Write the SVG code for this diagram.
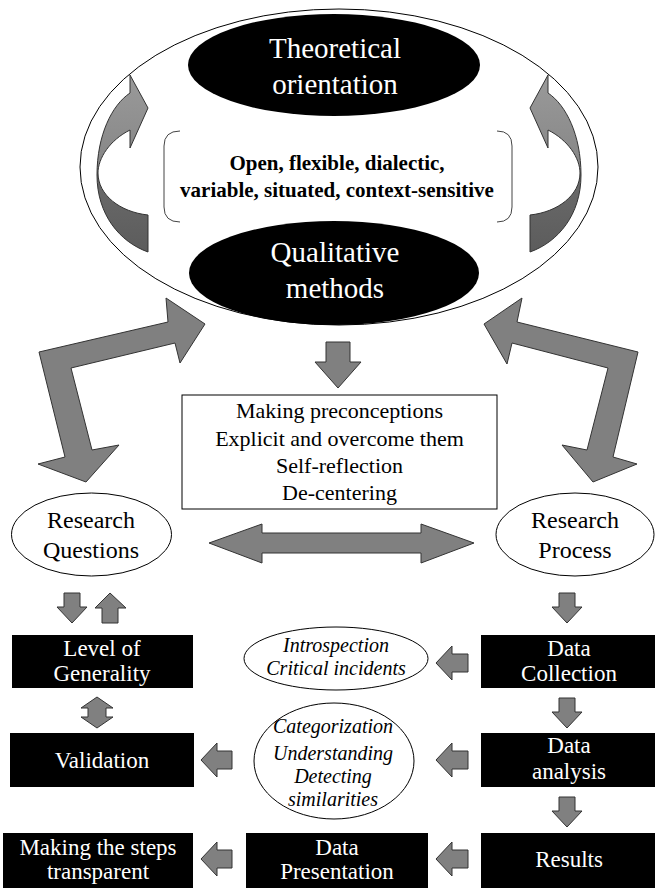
<svg xmlns="http://www.w3.org/2000/svg" width="655" height="888" viewBox="0 0 655 888">
<defs>
<linearGradient id="cg" gradientUnits="userSpaceOnUse" x1="0" y1="75" x2="0" y2="252">
<stop offset="0" stop-color="#9a9a9a"/><stop offset="0.55" stop-color="#858585"/><stop offset="0.55" stop-color="#6b6b6b"/><stop offset="1" stop-color="#5c5c5c"/>
</linearGradient>
<style>
.t{font-family:"Liberation Serif","Times New Roman",serif;text-anchor:middle}
.w{fill:#fff}
.big{font-size:29px}
.mid{font-size:24px}
.bx{font-size:23px}
.box{font-size:22px}
.it{font-size:20px;font-style:italic}
.bd{font-size:21px;font-weight:bold}
.ar{fill:#808080;stroke:#333;stroke-width:1;stroke-linejoin:miter}
.blk{fill:#000}
.ol{fill:#fff;stroke:#000;stroke-width:1}
</style>
</defs>
<rect width="655" height="888" fill="#fff"/>
<g id="outer-ellipse"><ellipse cx="339" cy="167" rx="259" ry="158" class="ol"/></g>
<g id="theoretical"><ellipse cx="334" cy="65" rx="146" ry="51" class="blk"/>
<text class="t w big" x="335" y="58">Theoretical</text><text class="t w big" x="335" y="94">orientation</text></g>
<g id="bracket"><path d="M180,131 Q164,131 164,146 L164,207 Q164,222 180,222 M497,131 Q512,131 512,146 L512,207 Q512,222 497,222" fill="none" stroke="#444" stroke-width="1"/>
<text class="t bd" x="337" y="170">Open, flexible, dialectic,</text><text class="t bd" x="337" y="197">variable, situated, context-sensitive</text></g>
<g id="qualitative"><ellipse cx="334" cy="273" rx="145" ry="52" class="blk"/>
<text class="t w big" x="335" y="262">Qualitative</text><text class="t w big" x="335" y="298">methods</text></g>
<g id="preconceptions"><rect x="182" y="395" width="315" height="114" class="ol"/>
<text class="t box" x="339.5" y="418">Making preconceptions</text><text class="t box" x="339.5" y="446">Explicit and overcome them</text><text class="t box" x="339.5" y="473">Self-reflection</text><text class="t box" x="339.5" y="500">De-centering</text></g>
<g id="research-questions"><ellipse cx="91.5" cy="534.5" rx="80" ry="41.5" class="ol"/>
<text class="t mid" x="91" y="528">Research</text><text class="t mid" x="91" y="558">Questions</text></g>
<g id="research-process"><ellipse cx="575" cy="534.5" rx="79" ry="41.5" class="ol"/>
<text class="t mid" x="575" y="528">Research</text><text class="t mid" x="575" y="558">Process</text></g>
<g id="level"><rect x="12" y="635" width="181" height="53" class="blk"/>
<text class="t w bx" x="102" y="656">Level of</text><text class="t w bx" x="102" y="681">Generality</text></g>
<g id="validation"><rect x="10" y="733" width="184" height="54" class="blk"/>
<text class="t w bx" x="102" y="768">Validation</text></g>
<g id="transparent"><rect x="3" y="833" width="190" height="55" class="blk"/>
<text class="t w bx" x="98" y="855">Making the steps</text><text class="t w bx" x="98" y="879">transparent</text></g>
<g id="introspection"><ellipse cx="336" cy="658.5" rx="92" ry="31.5" class="ol"/>
<text class="t it" x="336" y="652">Introspection</text><text class="t it" x="336" y="675">Critical incidents</text></g>
<g id="categorization"><ellipse cx="334" cy="761" rx="80" ry="58" class="ol"/>
<text class="t it" x="333" y="733">Categorization</text><text class="t it" x="333" y="760">Understanding</text><text class="t it" x="333" y="783">Detecting</text><text class="t it" x="333" y="806">similarities</text></g>
<g id="data-collection"><rect x="481" y="635" width="174" height="53" class="blk"/>
<text class="t w bx" x="569" y="656">Data</text><text class="t w bx" x="569" y="681">Collection</text></g>
<g id="data-analysis"><rect x="481" y="733" width="174" height="54" class="blk"/>
<text class="t w bx" x="569" y="753">Data</text><text class="t w bx" x="569" y="779">analysis</text></g>
<g id="results"><rect x="481" y="833" width="174" height="55" class="blk"/>
<text class="t w bx" x="569" y="867">Results</text></g>
<g id="data-presentation"><rect x="246" y="833" width="182" height="55" class="blk"/>
<text class="t w bx" x="337" y="855">Data</text><text class="t w bx" x="337" y="879">Presentation</text></g>
<g id="connectors">
<path d="M148,252 C120,242 97,215 97,175 C97,135 112,105 130,93 L130,75 L148,108 L130,148 L130,130 C110,140 98,158 98,173 C98,195 120,212 148,215 Z" fill="url(#cg)" stroke="#333" stroke-width="1"/>
<path d="M530,252 C558,242 581,215 581,175 C581,135 566,105 548,93 L548,75 L530,108 L548,148 L548,130 C568,140 580,158 580,173 C580,195 558,212 530,215 Z" fill="url(#cg)" stroke="#333" stroke-width="1"/>
<polygon class="ar" points="39,352 168,322 166,298 205,324 180,363 175,343 71,368 92,450 119,445 86,482 38,464 65,457"/>
<polygon class="ar" points="638,352 517,322 522,298 484,324 507,364 512,343 608,368 587,450 562,445 593,482 637,464 613,457"/>
<polygon class="ar" points="326,342 350,342 350,362 361,362 338,388 315,362 326,362"/>
<polygon class="ar" points="209,543 262,524 262,533 421,533 421,524 474,543 421,563 421,553 262,553 262,563"/>
<polygon class="ar" points="64,593 80,593 80,607 87,607 72,623 57,607 64,607"/>
<polygon class="ar" points="102,623 118,623 118,608 126,608 110,593 95,608 102,608"/>
<polygon class="ar" points="97,697 113,708 106,708 106,717 113,717 97,728 81,717 88,717 88,708 81,708"/>
<polygon class="ar" points="559,593 575,593 575,607 582,607 567,623 552,607 559,607"/>
<polygon class="ar" points="559,698 575,698 575,712 582,712 567,728 552,712 559,712"/>
<polygon class="ar" points="559,797 575,797 575,811 582,811 567,827 552,811 559,811"/>
<polygon class="ar" points="436,663 452,646 452,654 468,654 468,672 452,672 452,680"/>
<polygon class="ar" points="436,760 452,743 452,751 468,751 468,769 452,769 452,777"/>
<polygon class="ar" points="436,859 452,842 452,850 468,850 468,868 452,868 452,876"/>
<polygon class="ar" points="201,760 217,743 217,751 232,751 232,769 217,769 217,777"/>
<polygon class="ar" points="201,859 217,842 217,850 232,850 232,868 217,868 217,876"/>
</g>
</svg>
